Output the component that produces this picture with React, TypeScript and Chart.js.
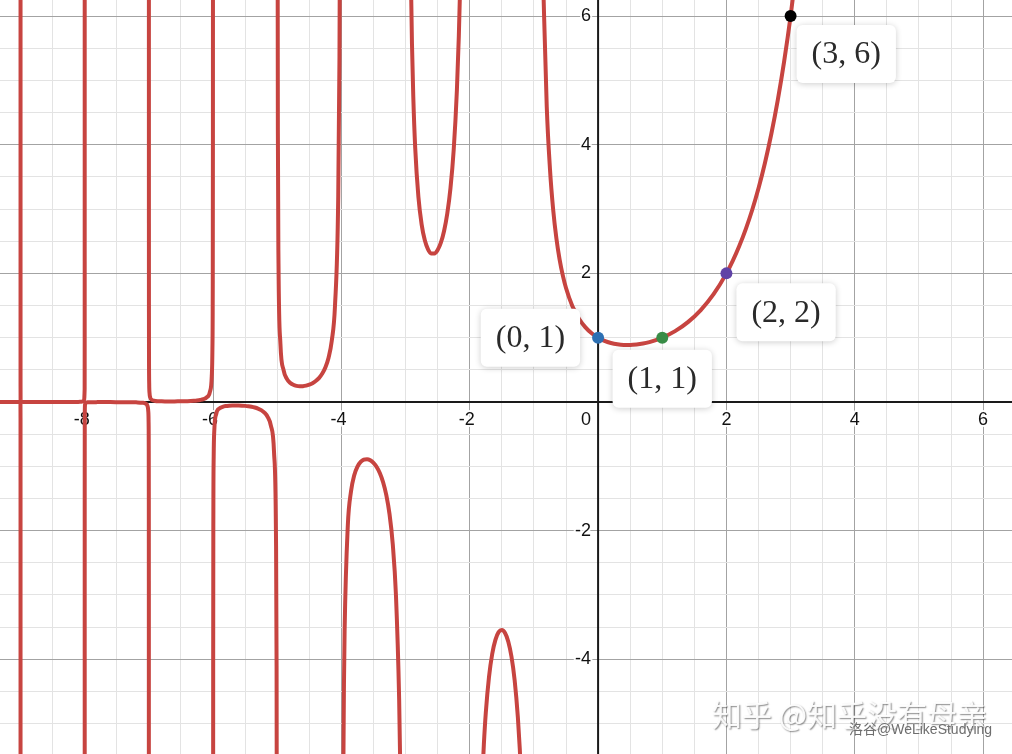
import React, { useEffect, useRef } from 'react';
import { Chart, registerables } from 'chart.js';

Chart.register(...registerables);

// Visible window of the plot (graph units)
const X_MIN = -9.32;
const X_MAX = 6.45;
const Y_MIN = -5.472;
const Y_MAX = 6.25;

// Tick labels on the axes
const xTickLabels = [-8, -6, -4, -2, 0, 2, 4, 6];
const yTickLabels = [-4, -2, 2, 4, 6];

// Curve branches (x, y), one per interval between poles
const branchBelowMinus9: [number, number][] = [
  [-9.4, -0.00002], [-9.3, -0.00005], [-9.2, -0.000086], [-9.1, -0.0002], [-9.05, -0.00045],
  [-9.01, -0.0025], [-9.001, -0.025], [-9.0001, -0.25], [-9.00002, -1.24], [-9.00001, -2.48],
  [-9.000005, -4.96], [-9.000002, -12.4],
];
const branchMinus9ToMinus8: [number, number][] = [
  [-8.999998, 12.4], [-8.999995, 4.96], [-8.99999, 2.48], [-8.9999, 0.248], [-8.999, 0.0248],
  [-8.995, 0.005], [-8.99, 0.0025], [-8.95, 0.00055], [-8.9, 0.00031], [-8.7, 0.00018],
  [-8.5, 0.00022], [-8.3, 0.00042], [-8.1, 0.0016], [-8.05, 0.0036], [-8.01, 0.019],
  [-8.001, 0.198], [-8.0002, 0.99], [-8.0001, 1.98], [-8.00005, 3.97], [-8.00002, 9.92],
];
const branchMinus8ToMinus7: [number, number][] = [
  [-7.99998, -9.92], [-7.99995, -3.97], [-7.9999, -1.98], [-7.9998, -0.99], [-7.999, -0.198],
  [-7.995, -0.04], [-7.99, -0.0202], [-7.95, -0.0044], [-7.9, -0.0025], [-7.8, -0.0016],
  [-7.7, -0.0014], [-7.6, -0.00145], [-7.5, -0.0017], [-7.4, -0.0021], [-7.3, -0.0031],
  [-7.2, -0.0051], [-7.1, -0.0117], [-7.05, -0.0254], [-7.02, -0.067], [-7.01, -0.136],
  [-7.005, -0.278], [-7.002, -0.69], [-7.001, -1.39], [-7.0005, -2.78], [-7.0002, -6.94],
];
const branchMinus7ToMinus6: [number, number][] = [
  [-6.9998, 6.95], [-6.9995, 2.78], [-6.999, 1.39], [-6.998, 0.7], [-6.995, 0.28],
  [-6.99, 0.1415], [-6.98, 0.0721], [-6.95, 0.0306], [-6.9, 0.017], [-6.85, 0.0127],
  [-6.8, 0.0108], [-6.75, 0.0098], [-6.7, 0.0094], [-6.65, 0.0093], [-6.6, 0.0096],
  [-6.55, 0.0101], [-6.5, 0.0109], [-6.45, 0.0121], [-6.4, 0.0137], [-6.35, 0.016],
  [-6.3, 0.0192], [-6.25, 0.024], [-6.2, 0.0316], [-6.15, 0.0446], [-6.1, 0.0714],
  [-6.05, 0.154], [-6.02, 0.403], [-6.01, 0.819], [-6.005, 1.648], [-6.002, 4.15], [-6.001, 8.3],
];
const branchMinus6ToMinus5: [number, number][] = [
  [-5.999, -8.33], [-5.998, -4.16], [-5.995, -1.681], [-5.99, -0.848], [-5.98, -0.431],
  [-5.95, -0.1822], [-5.9, -0.1004], [-5.85, -0.0743], [-5.8, -0.0624], [-5.75, -0.0564],
  [-5.7, -0.0535], [-5.65, -0.0528], [-5.6, -0.0537], [-5.55, -0.0561], [-5.5, -0.06],
  [-5.45, -0.0659], [-5.4, -0.0741], [-5.35, -0.0856], [-5.3, -0.102], [-5.25, -0.1262],
  [-5.2, -0.1641], [-5.15, -0.2295], [-5.1, -0.364], [-5.05, -0.776], [-5.02, -2.023],
  [-5.01, -4.105], [-5.005, -8.27],
];
const branchMinus5ToMinus4: [number, number][] = [
  [-4.995, 8.4], [-4.99, 4.231], [-4.98, 2.148], [-4.95, 0.902], [-4.9, 0.4919],
  [-4.85, 0.3605], [-4.8, 0.2996], [-4.75, 0.2679], [-4.7, 0.2516], [-4.65, 0.2455],
  [-4.6, 0.2469], [-4.55, 0.255], [-4.5, 0.2701], [-4.45, 0.293], [-4.4, 0.3259],
  [-4.35, 0.3723], [-4.3, 0.4385], [-4.25, 0.5362], [-4.2, 0.6891], [-4.15, 0.9523],
  [-4.1, 1.4923], [-4.05, 3.1423], [-4.03, 5.357], [-4.02, 8.131],
];
const branchMinus4ToMinus3: [number, number][] = [
  [-3.98, -8.55], [-3.97, -5.778], [-3.96, -4.392], [-3.95, -3.563], [-3.9, -1.9184],
  [-3.85, -1.3879], [-3.8, -1.1386], [-3.75, -1.0045], [-3.7, -0.9311], [-3.65, -0.8959],
  [-3.6, -0.8887], [-3.55, -0.9054], [-3.5, -0.9453], [-3.45, -1.011], [-3.4, -1.108],
  [-3.35, -1.2471], [-3.3, -1.4471], [-3.25, -1.7428], [-3.2, -2.205], [-3.15, -3.0],
  [-3.1, -4.6262], [-3.08, -5.861], [-3.07, -6.745],
];
const branchMinus3ToMinus2: [number, number][] = [
  [-2.92, 6.79], [-2.9, 5.563], [-2.88, 4.753], [-2.85, 3.9557], [-2.8, 3.1881],
  [-2.75, 2.7624], [-2.7, 2.5139], [-2.65, 2.374], [-2.6, 2.3106], [-2.55, 2.3087],
  [-2.5, 2.3633], [-2.45, 2.4768], [-2.4, 2.6593], [-2.35, 2.9308], [-2.3, 3.3284],
  [-2.25, 3.9213], [-2.2, 4.8509], [-2.17, 5.693], [-2.15, 6.449], [-2.13, 7.448],
];
const branchMinus2ToMinus1: [number, number][] = [
  [-1.82, -6.258], [-1.8, -5.7386], [-1.78, -5.323], [-1.75, -4.834], [-1.7, -4.2737],
  [-1.65, -3.9171], [-1.6, -3.6969], [-1.55, -3.5784], [-1.5, -3.5449], [-1.45, -3.5914],
  [-1.4, -3.723], [-1.35, -3.9566], [-1.3, -4.3269], [-1.25, -4.9017], [-1.22, -5.398],
  [-1.2, -5.8211], [-1.18, -6.347],
];
const branchAboveMinus1: [number, number][] = [
  [-0.86, 6.69], [-0.8, 4.5908], [-0.75, 3.6256], [-0.7, 2.9916], [-0.65, 2.5461],
  [-0.6, 2.2182], [-0.55, 1.9681], [-0.5, 1.7725], [-0.4, 1.4892], [-0.3, 1.2981],
  [-0.2, 1.1642], [-0.1, 1.0686], [0, 1], [0.1, 0.9514], [0.2, 0.9182], [0.3, 0.8975],
  [0.4, 0.8873], [0.5, 0.8862], [0.6, 0.8935], [0.7, 0.9086], [0.8, 0.9314], [0.9, 0.9618],
  [1, 1], [1.2, 1.1018], [1.4, 1.2422], [1.6, 1.4296], [1.8, 1.6765], [2, 2],
  [2.1, 2.1976], [2.2, 2.424], [2.3, 2.6834], [2.4, 2.9813], [2.5, 3.3234], [2.6, 3.717],
  [2.7, 4.1707], [2.8, 4.6942], [2.9, 5.2993], [3, 6], [3.1, 6.813],
];

const branches = [
  branchBelowMinus9, branchMinus9ToMinus8, branchMinus8ToMinus7, branchMinus7ToMinus6,
  branchMinus6ToMinus5, branchMinus5ToMinus4, branchMinus4ToMinus3, branchMinus3ToMinus2,
  branchMinus2ToMinus1, branchAboveMinus1,
];

// Highlighted points
const markedX = [0, 1, 2, 3];
const markedY = [1, 1, 2, 6];
const markedColors = ['#2d70b3', '#388c46', '#6042a6', '#000000'];
const markedLabels = ['(0, 1)', '(1, 1)', '(2, 2)', '(3, 6)'];

const CURVE_COLOR = '#c74440';

// label box placement relative to the point (style, not data)
const labelPlacement = [
  { anchor: 'left', dx: -18, dy: 0 },
  { anchor: 'below', dx: 0, dy: 12 },
  { anchor: 'belowRight', dx: 10, dy: 10 },
  { anchor: 'belowRight', dx: 6, dy: 9 },
];

const gridTicks = (min: number, max: number, step: number) => {
  const out: { value: number }[] = [];
  for (let v = Math.ceil(min / step) * step; v <= max + 1e-9; v += step) {
    out.push({ value: Math.round(v * 1000) / 1000 });
  }
  return out;
};

const gridColor = (ctx: any) => {
  const v = ctx.tick ? ctx.tick.value : 0;
  if (Math.abs(v) < 1e-9) return 'rgba(0,0,0,0)';
  if (Math.abs(v / 2 - Math.round(v / 2)) < 1e-6) return '#a3a3a3';
  return '#e3e3e3';
};

const axesPlugin = {
  id: 'axesAndLabels',
  beforeDatasetsDraw(chart: any) {
    const { ctx, chartArea } = chart;
    const xs = chart.scales.x;
    const ys = chart.scales.y;
    const x0 = xs.getPixelForValue(0);
    const y0 = ys.getPixelForValue(0);
    ctx.save();
    ctx.strokeStyle = '#1a1a1a';
    ctx.lineWidth = 2;
    ctx.beginPath();
    ctx.moveTo(chartArea.left, y0);
    ctx.lineTo(chartArea.right, y0);
    ctx.moveTo(x0, chartArea.top);
    ctx.lineTo(x0, chartArea.bottom);
    ctx.stroke();

    ctx.font = '18px "Liberation Sans", Arial, sans-serif';
    ctx.textBaseline = 'middle';
    ctx.lineJoin = 'round';
    const drawLabel = (text: string, x: number, y: number, align: CanvasTextAlign) => {
      ctx.textAlign = align;
      ctx.strokeStyle = 'rgba(255,255,255,0.9)';
      ctx.lineWidth = 4;
      ctx.strokeText(text, x, y);
      ctx.fillStyle = '#111111';
      ctx.fillText(text, x, y);
    };
    const minusW = ctx.measureText('-').width;
    xTickLabels.forEach((v) => {
      const px = xs.getPixelForValue(v);
      const py = y0 + 18;
      if (v === 0) {
        drawLabel('0', x0 - 7, py, 'right');
      } else {
        const shift = v < 0 ? minusW / 2 : 0;
        drawLabel(String(v), px - shift, py, 'center');
      }
    });
    yTickLabels.forEach((v) => {
      const py = ys.getPixelForValue(v);
      drawLabel(String(v), x0 - 7, py, 'right');
    });
    ctx.restore();
  },
  afterDatasetsDraw(chart: any) {
    const { ctx } = chart;
    const xs = chart.scales.x;
    const ys = chart.scales.y;
    ctx.save();
    ctx.font = '32px "Liberation Serif", "Times New Roman", serif';
    markedLabels.forEach((label, i) => {
      const px = xs.getPixelForValue(markedX[i]);
      const py = ys.getPixelForValue(markedY[i]);
      const tw = ctx.measureText(label).width;
      const w = tw + 30;
      const h = 58;
      const p = labelPlacement[i];
      let bx = px;
      let by = py;
      if (p.anchor === 'left') {
        bx = px + p.dx - w;
        by = py - h / 2 + p.dy;
      } else if (p.anchor === 'below') {
        bx = px - w / 2 + p.dx;
        by = py + p.dy;
      } else {
        bx = px + p.dx;
        by = py + p.dy;
      }
      ctx.save();
      ctx.shadowColor = 'rgba(0,0,0,0.2)';
      ctx.shadowBlur = 6;
      ctx.shadowOffsetY = 1;
      ctx.fillStyle = '#ffffff';
      ctx.beginPath();
      ctx.roundRect(bx, by, w, h, 6);
      ctx.fill();
      ctx.restore();
      ctx.fillStyle = '#2a2a2a';
      ctx.textAlign = 'center';
      ctx.textBaseline = 'middle';
      ctx.fillText(label, bx + w / 2, by + h / 2 + 1);
    });
    ctx.restore();
  },
  afterDraw(chart: any) {
    const { ctx } = chart;
    ctx.save();
    ctx.font = '30px "Noto Sans CJK SC", sans-serif';
    ctx.textAlign = 'left';
    ctx.textBaseline = 'alphabetic';
    ctx.shadowColor = 'rgba(0,0,0,0.5)';
    ctx.shadowOffsetX = 1;
    ctx.shadowOffsetY = 1;
    ctx.shadowBlur = 1.5;
    ctx.fillStyle = 'rgba(255,255,255,0.92)';
    ctx.fillText('知乎 @知乎没有母亲', 712, 726);
    ctx.shadowColor = 'rgba(255,255,255,0.9)';
    ctx.shadowOffsetX = 0;
    ctx.shadowOffsetY = 0;
    ctx.shadowBlur = 2;
    ctx.font = '14px "Liberation Sans", "Noto Sans CJK SC", sans-serif';
    ctx.fillStyle = '#6e6e6e';
    ctx.fillText('洛谷@WeLikeStudying', 849, 734);
    ctx.restore();
  },
};

export default function App() {
  const ref = useRef<HTMLCanvasElement>(null);
  useEffect(() => {
    document.body.style.margin = '0';
    const canvas = ref.current;
    if (!canvas) return;
    const datasets: any[] = [
      {
        type: 'scatter',
        data: markedX.map((x, i) => ({ x, y: markedY[i] })),
        pointRadius: 6,
        pointBorderWidth: 0,
        pointBackgroundColor: markedColors,
        showLine: false,
        order: 0,
      },
      ...branches.map((b) => ({
        type: 'line',
        data: b.map(([x, y]) => ({ x, y })),
        borderColor: CURVE_COLOR,
        borderWidth: 4,
        borderJoinStyle: 'round',
        borderCapStyle: 'round',
        pointRadius: 0,
        cubicInterpolationMode: 'monotone',
        fill: false,
        order: 1,
      })),
    ];
    const chart = new Chart(canvas, {
      type: 'line',
      data: { datasets },
      options: {
        animation: false,
        responsive: false,
        events: [],
        layout: { padding: 0, autoPadding: false },
        plugins: { legend: { display: false }, tooltip: { enabled: false } },
        scales: {
          x: {
            type: 'linear',
            min: X_MIN,
            max: X_MAX,
            border: { display: false },
            ticks: { display: false },
            grid: { drawTicks: false, color: gridColor, lineWidth: 1 },
            afterBuildTicks: (s: any) => { s.ticks = gridTicks(X_MIN, X_MAX, 0.5); },
            afterFit: (s: any) => { s.height = 0; },
          },
          y: {
            type: 'linear',
            min: Y_MIN,
            max: Y_MAX,
            border: { display: false },
            ticks: { display: false },
            grid: { drawTicks: false, color: gridColor, lineWidth: 1 },
            afterBuildTicks: (s: any) => { s.ticks = gridTicks(Y_MIN, Y_MAX, 0.5); },
            afterFit: (s: any) => { s.width = 0; },
          },
        },
      } as any,
      plugins: [axesPlugin],
    } as any);
    return () => chart.destroy();
  }, []);
  return (
    <div style={{ position: 'fixed', left: 0, top: 0, width: 1012, height: 754, background: '#ffffff' }}>
      <canvas ref={ref} width={1012} height={754} style={{ display: 'block', width: 1012, height: 754 }} />
    </div>
  );
}
